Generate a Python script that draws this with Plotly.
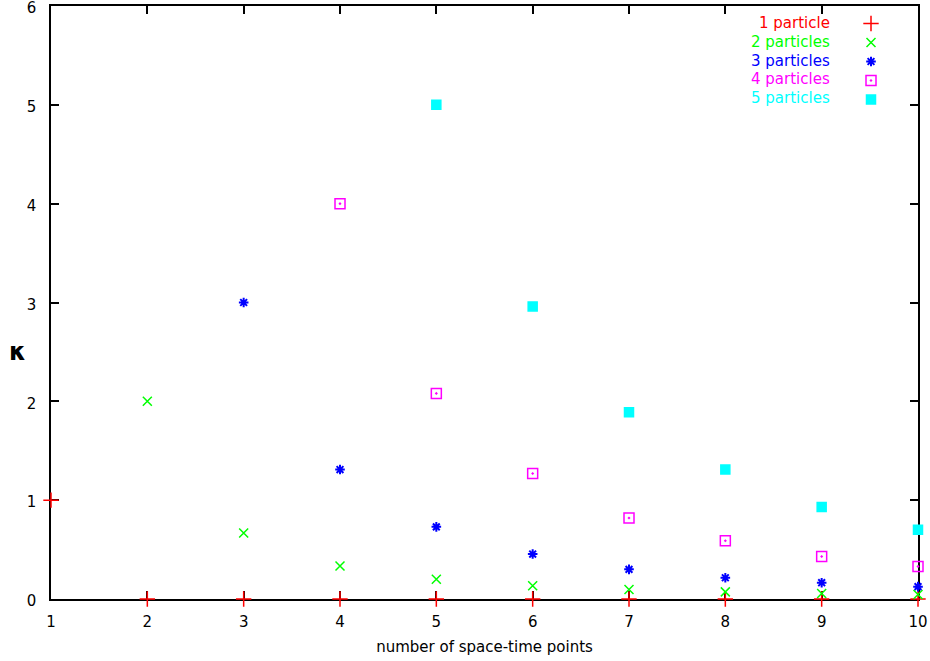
import plotly.graph_objects as go

# ---- data ----
p1_x = [1, 2, 3, 4, 5, 6, 7, 8, 9, 10]
p1_y = [1.0, 0, 0, 0, 0, 0, 0, 0, 0, 0]

p2_x = [2, 3, 4, 5, 6, 7, 8, 9, 10]
p2_y = [2.0, 0.667, 0.333, 0.20, 0.135, 0.097, 0.072, 0.056, 0.045]

p3_x = [3, 4, 5, 6, 7, 8, 9, 10]
p3_y = [3.0, 1.31, 0.73, 0.455, 0.30, 0.215, 0.165, 0.125]

p4_x = [4, 5, 6, 7, 8, 9, 10]
p4_y = [4.0, 2.08, 1.27, 0.82, 0.59, 0.43, 0.33]

p5_x = [5, 6, 7, 8, 9, 10]
p5_y = [5.0, 2.96, 1.89, 1.31, 0.93, 0.70]

names = ["1 particle", "2 particles", "3 particles", "4 particles", "5 particles"]
colors = ["#ff0000", "#00ff00", "#0000ff", "#ff00ff", "#00ffff"]
symbols = ["cross-thin-open", "x-thin-open", "asterisk-open", "square-open-dot", "square"]
sizes = [11, 9, 8, 10, 9]
x_ticks = [1, 2, 3, 4, 5, 6, 7, 8, 9, 10]
y_ticks = [0, 1, 2, 3, 4, 5, 6]

FONT = "DejaVu Sans"

fig = go.Figure()
series = [(p1_x, p1_y), (p2_x, p2_y), (p3_x, p3_y), (p4_x, p4_y), (p5_x, p5_y)]
for i, (xs, ys) in enumerate(series):
    fig.add_trace(go.Scatter(
        x=xs, y=ys, mode="markers", name="",
        cliponaxis=False,
        marker=dict(symbol=symbols[i], color=colors[i], size=sizes[i],
                    line=dict(color=colors[i], width=1.5 if i != 2 else 2)),
    ))

W, H = 930, 661
L, R, T, B = 51, 12, 6, 62
pw, ph = W - L - R, H - T - B

def px(xp):
    return (xp - L) / pw

def py(yp):
    return (H - B - yp) / ph

# legend text (right aligned, coloured), keys drawn by plotly legend
row0, dy = 23, 18.8
for i, n in enumerate(names):
    fig.add_annotation(x=px(832), y=py(row0 + i * dy), xref="paper", yref="paper",
                       text=n, showarrow=False, xanchor="right", yanchor="middle",
                       font=dict(family=FONT, size=15, color=colors[i]))

fig.add_annotation(x=px(17), y=py(352), xref="paper", yref="paper",
                   text="<b>κ</b>", showarrow=False, xanchor="center", yanchor="middle",
                   font=dict(family=FONT, size=24, color="black"))

axis_common = dict(showline=True, linecolor="black", linewidth=1.5, mirror="ticks",
                   ticks="inside", ticklen=8, tickwidth=1.5, tickcolor="black",
                   showgrid=False, zeroline=False, automargin=False,
                   ticklabeloverflow="allow", layer="below traces",
                   tickfont=dict(family=FONT, size=15, color="black"))

fig.update_layout(
    width=W, height=H,
    margin=dict(l=L, r=R, t=T, b=B),
    paper_bgcolor="white", plot_bgcolor="white",
    showlegend=True,
    legend=dict(x=px(851), y=py(9), xanchor="left", yanchor="top",
                bgcolor="rgba(0,0,0,0)", font=dict(family=FONT, size=12)),
    xaxis=dict(range=[1, 10], tickvals=x_ticks, ticklabelstandoff=8,
               title=dict(text="number of space-time points", standoff=12,
                          font=dict(family=FONT, size=15, color="black")),
               **axis_common),
    yaxis=dict(range=[0, 6], tickvals=y_ticks, ticklabelstandoff=10,
               ticklabelshift=2, **axis_common),
)

fig.write_html("out.html", config={"displayModeBar": False},
               post_script="document.body.style.margin='0px';")
